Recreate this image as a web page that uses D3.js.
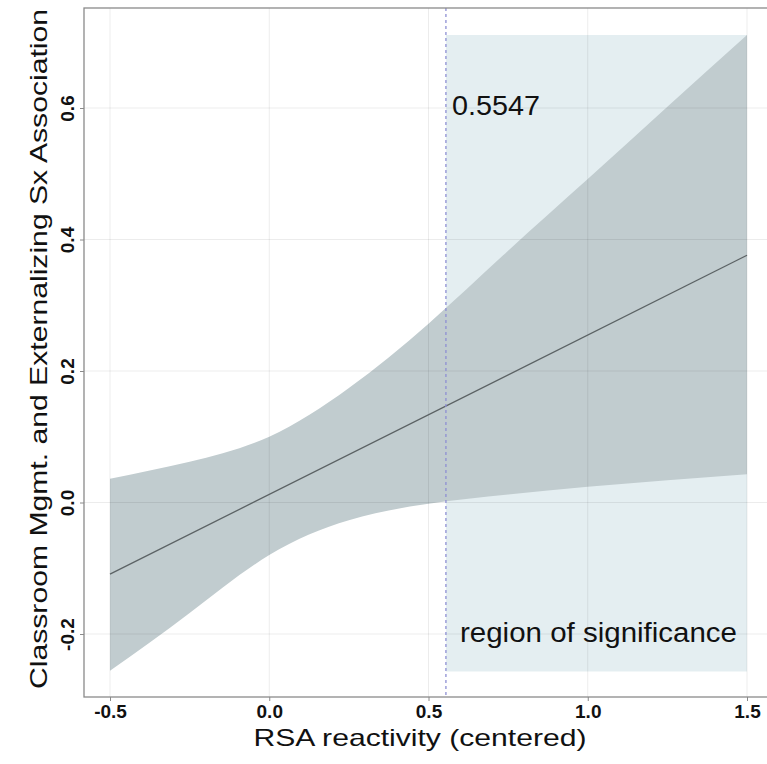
<!DOCTYPE html>
<html>
<head>
<meta charset="utf-8">
<script src="https://cdn.jsdelivr.net/npm/d3@7"></script>
<style>
  body { margin: 0; background: #fff; }
  text { font-family: "Liberation Sans", Arial, sans-serif; }
</style>
</head>
<body>
<script>
// Johnson-Neyman plot: conditional effect of classroom mgmt on externalizing sx
const width = 767;
const height = 764;

// --- data ---
const bandX = [-0.5, -0.25, 0, 0.25, 0.5, 0.75, 1.0, 1.25, 1.5];
const upperCI = [0.036, 0.062, 0.100, 0.174, 0.272, 0.383, 0.492, 0.602, 0.711];
const lowerCI = [-0.256, -0.168, -0.080, -0.027, -0.002, 0.012, 0.024, 0.034, 0.043];
const slopeX = [-0.5, 1.5];
const slopeY = [-0.109, 0.376];
const jnPoint = 0.5547;
const regionX = [0.5547, 1.5];
const regionY = [-0.257, 0.711];
const xTicks = [-0.5, 0.0, 0.5, 1.0, 1.5];
const yTicks = [-0.2, 0.0, 0.2, 0.4, 0.6];

// panel box
const panel = { left: 84, top: 8, right: 768, bottom: 697 };

const x = d3.scaleLinear().domain([-0.5, 1.5]).range([110, 747]);
const y = d3.scaleLinear().domain([-0.2, 0.6]).range([634, 108]);

const svg = d3.select("body").append("svg")
    .attr("width", width)
    .attr("height", height);

// region of significance
svg.append("rect")
    .attr("x", x(regionX[0]))
    .attr("y", y(regionY[1]))
    .attr("width", x(regionX[1]) - x(regionX[0]))
    .attr("height", y(regionY[0]) - y(regionY[1]))
    .attr("fill", "#e4eef1");

// confidence band
const band = bandX.map((d, i) => ({ x: d, lo: lowerCI[i], hi: upperCI[i] }));
svg.append("path")
    .datum(band)
    .attr("fill", "#c1cccf")
    .attr("d", d3.area()
        .x(d => x(d.x))
        .y0(d => y(d.lo))
        .y1(d => y(d.hi))
        .curve(d3.curveNatural));

// grid lines (drawn faintly over the fills)
const grid = svg.append("g").attr("stroke", "#000").attr("stroke-opacity", 0.075);
grid.selectAll(".gx").data(xTicks).join("line")
    .attr("x1", d => x(d)).attr("x2", d => x(d))
    .attr("y1", panel.top).attr("y2", panel.bottom);
grid.selectAll(".gy").data(yTicks).join("line")
    .attr("y1", d => y(d)).attr("y2", d => y(d))
    .attr("x1", panel.left).attr("x2", panel.right);

// simple slope line
svg.append("path")
    .datum(slopeX.map((d, i) => [d, slopeY[i]]))
    .attr("fill", "none")
    .attr("stroke", "#5c6365")
    .attr("stroke-width", 1.3)
    .attr("d", d3.line().x(d => x(d[0])).y(d => y(d[1])));

// JN cut-off
svg.append("line")
    .attr("x1", x(jnPoint)).attr("x2", x(jnPoint))
    .attr("y1", panel.top).attr("y2", panel.bottom)
    .attr("stroke", "#8e8fd4")
    .attr("stroke-width", 1.3)
    .attr("stroke-dasharray", "3,3");

// panel border
svg.append("rect")
    .attr("x", panel.left).attr("y", panel.top)
    .attr("width", panel.right - panel.left)
    .attr("height", panel.bottom - panel.top)
    .attr("fill", "none")
    .attr("stroke", "#8a8a8a")
    .attr("stroke-width", 1.3);

// axes
const fmt = d3.format(".1f");
const xAxis = svg.append("g")
    .attr("transform", `translate(0,${panel.bottom})`)
    .call(d3.axisBottom(x).tickValues(xTicks).tickSize(4).tickPadding(4));
xAxis.select(".domain").remove();
xAxis.selectAll("line").attr("stroke", "#8a8a8a");
xAxis.selectAll("text")
    .attr("font-size", 19).attr("font-weight", "bold").attr("fill", "#111")
    .attr("font-family", "Liberation Sans, Arial, sans-serif")
    .text(d => fmt(d).replace("−", "-"));

const yAxis = svg.append("g")
    .attr("transform", `translate(${panel.left},0)`)
    .call(d3.axisLeft(y).tickValues(yTicks).tickSize(4));
yAxis.select(".domain").remove();
yAxis.selectAll("line").attr("stroke", "#8a8a8a");
yAxis.selectAll("text")
    .attr("font-size", 19).attr("font-weight", "bold").attr("fill", "#111")
    .attr("font-family", "Liberation Sans, Arial, sans-serif")
    .attr("text-anchor", "middle")
    .attr("x", null).attr("dy", null)
    .attr("transform", "translate(-10,0) rotate(-90)")
    .text(d => fmt(d).replace("−", "-"));

// titles and annotations
svg.append("text")
    .attr("x", 420).attr("y", 746)
    .attr("text-anchor", "middle")
    .attr("font-size", 24)
    .attr("textLength", 333).attr("lengthAdjust", "spacingAndGlyphs")
    .attr("fill", "#111")
    .text("RSA reactivity (centered)");

svg.append("text")
    .attr("transform", "translate(47,349) rotate(-90)")
    .attr("text-anchor", "middle")
    .attr("font-size", 24)
    .attr("textLength", 680).attr("lengthAdjust", "spacingAndGlyphs")
    .attr("fill", "#111")
    .text("Classroom Mgmt. and Externalizing Sx Association");

svg.append("text")
    .attr("x", 452).attr("y", 115)
    .attr("font-size", 27)
    .attr("textLength", 88).attr("lengthAdjust", "spacingAndGlyphs")
    .attr("fill", "#111")
    .text(jnPoint.toFixed(4));

svg.append("text")
    .attr("x", 460).attr("y", 642)
    .attr("font-size", 27)
    .attr("textLength", 277).attr("lengthAdjust", "spacingAndGlyphs")
    .attr("fill", "#111")
    .text("region of significance");
</script>
</body>
</html>
